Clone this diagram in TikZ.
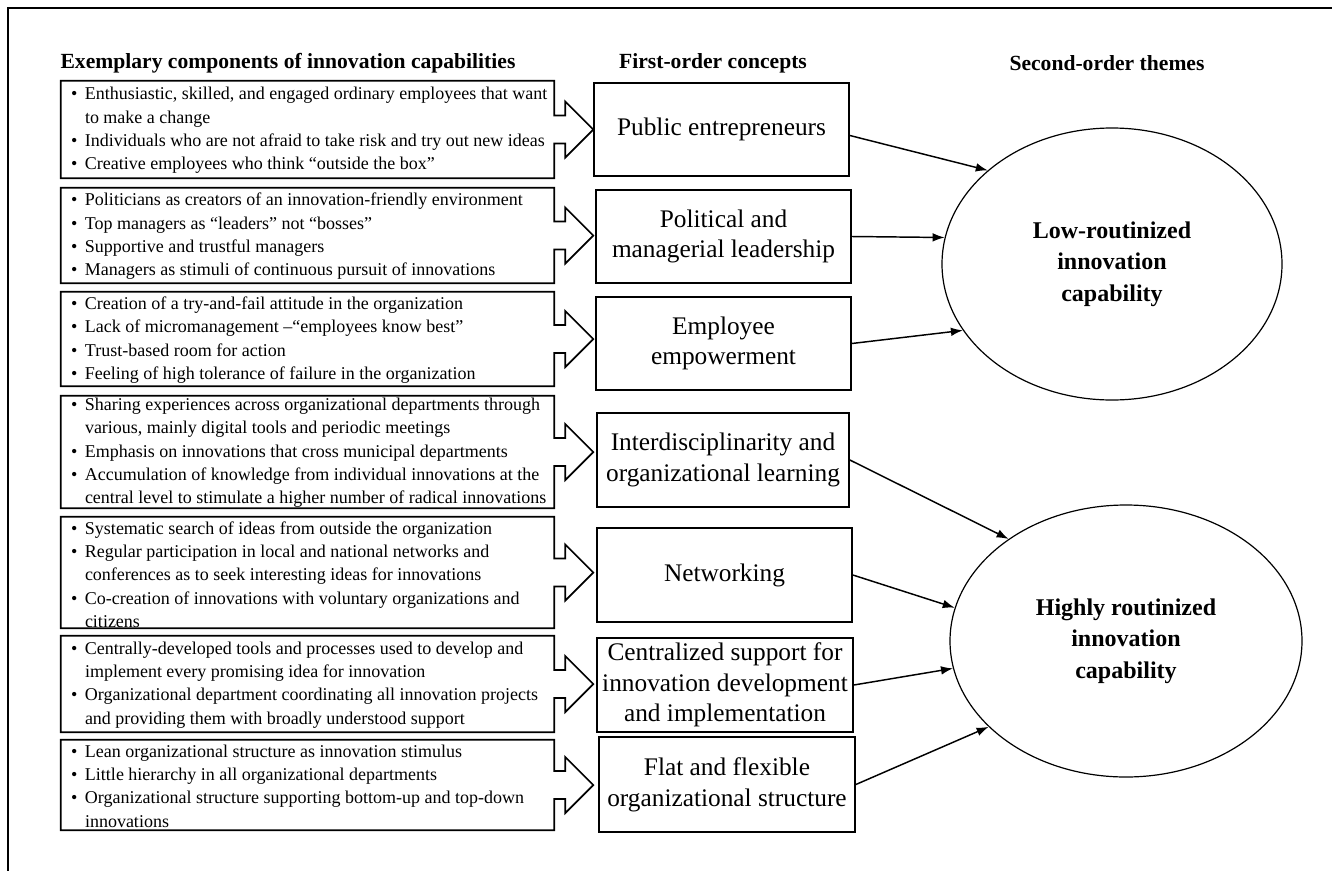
\documentclass[tikz,border=0pt]{standalone}
\usepackage{fontspec}
\setmainfont{Liberation Serif}
\usetikzlibrary{arrows.meta,calc,shapes.geometric}

% bullet with hanging indent, and a continuation line
\newcommand\bitem[1]{\makebox[10.5pt][l]{\textbullet}#1}
\newcommand\citem[1]{\hspace*{10.5pt}#1}

\begin{document}
\begin{tikzpicture}[x=0.75pt,y=-0.75pt,
  outline/.style={line width=1.3pt,line join=miter},
  itemtext/.style={anchor=west,align=left,inner sep=0pt,font=\fontsize{13.5}{17.5}\selectfont},
  area/.style={inner sep=0pt,minimum width=369.75pt},
  concept/.style={draw,line width=1.3pt,rectangle,align=center,inner sep=0pt,font=\fontsize{19}{23}\selectfont},
  theme/.style={draw,line width=0.9pt,ellipse,inner sep=0pt,align=center,font=\bfseries\fontsize{18}{23.5}\selectfont},
  header/.style={font=\bfseries\fontsize{16.2}{19}\selectfont,inner sep=0pt},
  link/.style={line width=1.1pt,-{Latex[length=9pt,width=6.5pt]}}
]
\useasboundingbox (0,0) rectangle (1332,871);

% frame
\draw[line width=1.3pt] (8,871) -- (8,8) -- (1332,8);

% column headings
\node[header] (h1) at (288,63) {Exemplary components of innovation capabilities};
\node[header] (h2) at (713,63) {First-order concepts};
\node[header] (h3) at (1107,63) {Second-order themes};

% first-order concepts
\node[concept,minimum width=191.25pt,minimum height=69.75pt] (m1) at (721.5,129.5) {Public entrepreneurs};
\node[concept,minimum width=191.25pt,minimum height=69.75pt] (m2) at (723.5,236.5) {Political and\\managerial leadership};
\node[concept,minimum width=191.25pt,minimum height=69.75pt] (m3) at (723.5,343.5) {Employee\\empowerment};
\node[concept,minimum width=189pt,minimum height=70.5pt] (m4) at (723,460) {Interdisciplinarity and\\organizational learning};
\node[concept,minimum width=191.25pt,minimum height=70.5pt] (m5) at (724.5,575) {Networking};
\node[concept,minimum width=192pt,minimum height=70.5pt] (m6) at (725,685) {Centralized support for\\innovation development\\and implementation};
\node[concept,minimum width=192pt,minimum height=71.25pt] (m7) at (727,784.5) {Flat and flexible\\organizational structure};

% component boxes (outline drawn below, together with the block arrow)
\node[area,minimum height=72.75pt] (b1) at (307.5,129.5) {};
\node[area,minimum height=71.25pt] (b2) at (307.5,235.5) {};
\node[area,minimum height=70.5pt]  (b3) at (307.5,339) {};
\node[area,minimum height=84pt]    (b4) at (307.5,452) {};
\node[area,minimum height=83.25pt] (b5) at (307.5,572.5) {};
\node[area,minimum height=72pt]    (b6) at (307.5,684) {};
\node[area,minimum height=67.5pt]  (b7) at (307.5,785) {};

\foreach \b in {b1,b2,b3,b4,b5,b6,b7}{
  \draw[outline] ($(\b.east)+(0,-14)$) |- (\b.north west) |- (\b.south east)
    -- ($(\b.east)+(0,14)$) -- ++(11,0) -- ++(0,14) -- ($(\b.east)+(39,0)$)
    -- ($(\b.east)+(11,-28)$) -- ++(0,14) -- cycle;
}

\node[itemtext] (t1) at ($(b1.west)+(10,1)$) {%
  \bitem{Enthusiastic, skilled, and engaged ordinary employees that want}\\
  \citem{to make a change}\\
  \bitem{Individuals who are not afraid to take risk and try out new ideas}\\
  \bitem{Creative employees who think “outside the box”}};
\node[itemtext] (t2) at ($(b2.west)+(10,1)$) {%
  \bitem{Politicians as creators of an innovation-friendly environment}\\
  \bitem{Top managers as “leaders” not “bosses”}\\
  \bitem{Supportive and trustful managers}\\
  \bitem{Managers as stimuli of continuous pursuit of innovations}};
\node[itemtext] (t3) at ($(b3.west)+(10,1)$) {%
  \bitem{Creation of a try-and-fail attitude in the organization}\\
  \bitem{Lack of micromanagement –“employees know best”}\\
  \bitem{Trust-based room for action}\\
  \bitem{Feeling of high tolerance of failure in the organization}};
\node[itemtext] (t4) at ($(b4.west)+(10,1)$) {%
  \bitem{Sharing experiences across organizational departments through}\\
  \citem{various, mainly digital tools and periodic meetings}\\
  \bitem{Emphasis on innovations that cross municipal departments}\\
  \bitem{Accumulation of knowledge from individual innovations at the}\\
  \citem{central level to stimulate a higher number of radical innovations}};
\node[itemtext] (t5) at ($(b5.west)+(10,2)$) {%
  \bitem{Systematic search of ideas from outside the organization}\\
  \bitem{Regular participation in local and national networks and}\\
  \citem{conferences as to seek interesting ideas for innovations}\\
  \bitem{Co-creation of innovations with voluntary organizations and}\\
  \citem{citizens}};
\node[itemtext] (t6) at ($(b6.west)+(10,1)$) {%
  \bitem{Centrally-developed tools and processes used to develop and}\\
  \citem{implement every promising idea for innovation}\\
  \bitem{Organizational department coordinating all innovation projects}\\
  \citem{and providing them with broadly understood support}};
\node[itemtext] (t7) at ($(b7.west)+(10,1)$) {%
  \bitem{Lean organizational structure as innovation stimulus}\\
  \bitem{Little hierarchy in all organizational departments}\\
  \bitem{Organizational structure supporting bottom-up and top-down}\\
  \citem{innovations}};

% second-order themes
\node[theme,minimum width=255pt,minimum height=204pt] (low) at (1112,264) {Low-routinized\\innovation\\capability};
\node[theme,minimum width=264pt,minimum height=204pt] (high) at (1126,641) {Highly routinized\\innovation\\capability};

% links
\draw[link] ($(m1.east)+(0,6)$) -- (low.143);
\draw[link] (m2.east) -- (low.171);
\draw[link] (m3.east) -- (low.204);
\draw[link] (m4.east) -- (high.139);
\draw[link] (m5.east) -- (high.169);
\draw[link] (m6.east) -- (high.189);
\draw[link] (m7.east) -- (high.212);
\end{tikzpicture}
\end{document}
